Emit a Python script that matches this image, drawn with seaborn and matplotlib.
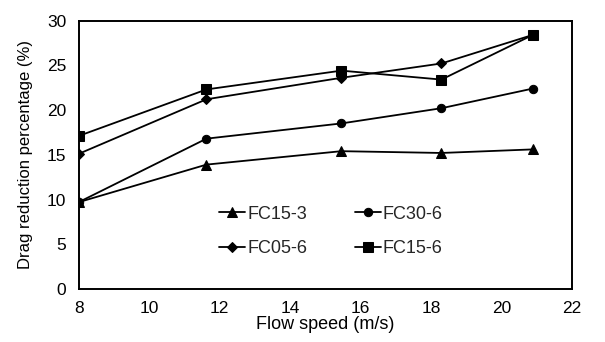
import matplotlib
matplotlib.use("Agg")
import matplotlib.pyplot as plt
import seaborn as sns
import pandas as pd

speed = [8.0, 11.63, 15.46, 18.3, 20.9]
fc15_3 = [9.7, 13.9, 15.4, 15.2, 15.6]
fc30_6 = [9.7, 16.8, 18.5, 20.2, 22.4]
fc05_6 = [15.1, 21.2, 23.6, 25.2, 28.4]
fc15_6 = [17.1, 22.3, 24.4, 23.4, 28.4]

series = ['FC15-3', 'FC30-6', 'FC05-6', 'FC15-6']
markers = {'FC15-3': '^', 'FC30-6': 'o', 'FC05-6': 'D', 'FC15-6': 's'}
msizes = {'FC15-3': 6.5, 'FC30-6': 6, 'FC05-6': 5, 'FC15-6': 6.5}

df = pd.DataFrame({'speed': speed * 4,
                   'value': fc15_3 + fc30_6 + fc05_6 + fc15_6,
                   'series': sum([[s] * len(speed) for s in series], [])})

sns.set_theme(style="white")
plt.rcParams['font.family'] = ['Liberation Sans', 'DejaVu Sans']

fig, ax = plt.subplots(figsize=(6.05, 3.42), dpi=100)
for s in series:
    d = df[df['series'] == s]
    sns.lineplot(data=d, x='speed', y='value', ax=ax, color='black', linewidth=1.3,
                 marker=markers[s], markersize=msizes[s], markeredgecolor='black',
                 markerfacecolor='black', label=s)

ax.set_xlim(8, 22)
ax.set_ylim(0, 30)
ax.set_xticks(range(8, 23, 2))
ax.set_yticks(range(0, 31, 5))
ax.tick_params(direction='in', length=4, width=1, labelsize=12.5, colors='black')
ax.tick_params(axis='x', pad=9)
ax.tick_params(axis='y', pad=9)
ax.set_xlabel('Flow speed (m/s)', fontsize=13, color='black', labelpad=0)
ax.set_ylabel('Drag reduction percentage (%)', fontsize=12, color='black', labelpad=10)
for sp in ax.spines.values():
    sp.set_color('black')
    sp.set_linewidth(1.4)

# row-wise legend order like the original
handles, labels = ax.get_legend_handles_labels()
order = [0, 2, 1, 3]
leg = ax.legend([handles[i] for i in order], [labels[i] for i in order],
                loc='lower left', bbox_to_anchor=(0.252, 0.058), ncol=2, frameon=False,
                fontsize=13, handlelength=1.45, handletextpad=0.1, columnspacing=2.64,
                labelspacing=0.97)

fig.subplots_adjust(left=0.13, right=0.945, top=0.94, bottom=0.155)
fig.savefig('out.png', dpi=100)
